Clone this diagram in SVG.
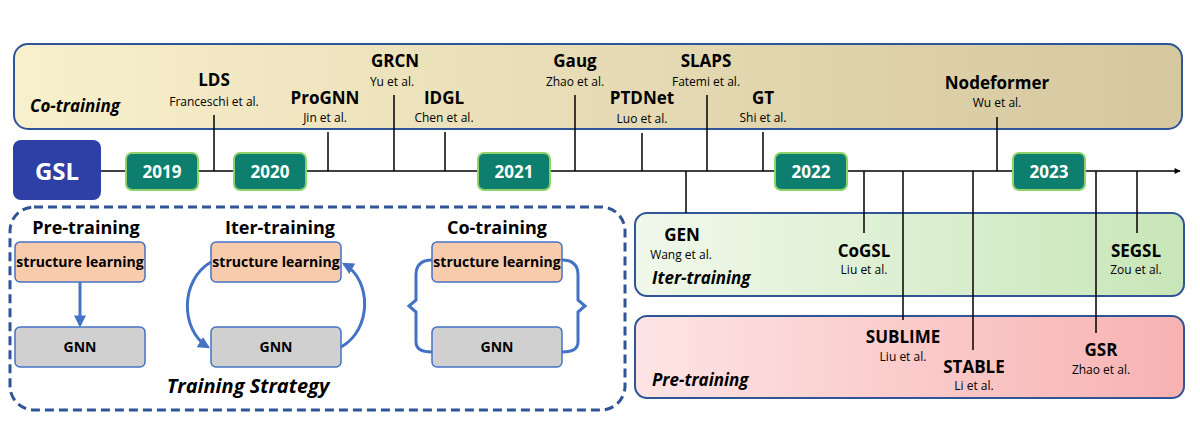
<svg xmlns="http://www.w3.org/2000/svg" width="1200" height="445" viewBox="0 0 1200 445">
<defs>
<linearGradient id="gTop" x1="0" x2="1" y1="0" y2="0"><stop offset="0" stop-color="#f8f0cc"/><stop offset="1" stop-color="#d5c79e"/></linearGradient>
<linearGradient id="gGreen" x1="0" x2="1"><stop offset="0" stop-color="#f0f8ea"/><stop offset="1" stop-color="#c8e6b8"/></linearGradient>
<linearGradient id="gRed" x1="0" x2="1"><stop offset="0" stop-color="#fde4e4"/><stop offset="1" stop-color="#f8b2b2"/></linearGradient>
<marker id="ah" viewBox="0 0 10 10" refX="9" refY="5" markerWidth="10" markerHeight="6" orient="auto-start-reverse" markerUnits="userSpaceOnUse"><path d="M0,0 L10,5 L0,10 z" fill="#000"/></marker>
<marker id="bh" viewBox="0 0 10 10" refX="8" refY="5" markerWidth="12" markerHeight="12" orient="auto" markerUnits="userSpaceOnUse"><path d="M0,0 L10,5 L0,10 z" fill="#4472c4"/></marker>
</defs>
<style>
text{font-family:"Open Sans","Noto Sans","Liberation Sans",sans-serif;fill:#000}
.n{font-size:17px;font-weight:bold;text-anchor:middle}
.a{font-size:12px;text-anchor:middle}
.cat{font-size:17px;font-weight:bold;font-style:italic}
.yr rect{fill:#0e7f6e;stroke:#8fd16a;stroke-width:2}
.yr text{fill:#fff;font-size:17px;font-weight:bold;text-anchor:middle}
.tk{stroke:#000;stroke-width:1.5}
.sl{fill:#f8cbad;stroke:#4472c4;stroke-width:1.5}
.gn{fill:#d0d0d0;stroke:#4472c4;stroke-width:1.5}
.bx{font-size:14px;font-weight:bold;text-anchor:middle}
.hd{font-size:18px;font-weight:bold;text-anchor:middle}
.fl{fill:none;stroke:#4472c4;stroke-width:3}
</style>
<g id="cotrain-band"><rect x="14" y="44" width="1168" height="85" rx="14" fill="url(#gTop)" stroke="#2f5597" stroke-width="2"/><text class="cat" x="30" y="112">Co-training</text></g>
<g id="iter-band"><rect x="635" y="213" width="549" height="83" rx="12" fill="url(#gGreen)" stroke="#2f5597" stroke-width="2"/><text class="cat" x="652" y="284">Iter-training</text></g>
<g id="pre-band"><rect x="635" y="316" width="549" height="82" rx="12" fill="url(#gRed)" stroke="#2f5597" stroke-width="2"/><text class="cat" x="652" y="386">Pre-training</text></g>
<g id="connectors">
<line class="tk" x1="101" y1="171" x2="1180" y2="171" stroke-width="3" marker-end="url(#ah)"/>
<line class="tk" x1="214" y1="115" x2="214" y2="171"/>
<line class="tk" x1="328" y1="132" x2="328" y2="171"/>
<line class="tk" x1="394" y1="95" x2="394" y2="171"/>
<line class="tk" x1="445" y1="132" x2="445" y2="171"/>
<line class="tk" x1="575" y1="95" x2="575" y2="171"/>
<line class="tk" x1="642" y1="133" x2="642" y2="171"/>
<line class="tk" x1="707" y1="95" x2="707" y2="171"/>
<line class="tk" x1="763" y1="132" x2="763" y2="171"/>
<line class="tk" x1="997" y1="117" x2="997" y2="171"/>
<line class="tk" x1="686" y1="171" x2="686" y2="213"/>
<line class="tk" x1="864" y1="171" x2="864" y2="233"/>
<line class="tk" x1="903" y1="171" x2="903" y2="320"/>
<line class="tk" x1="973" y1="171" x2="973" y2="350"/>
<line class="tk" x1="1096" y1="171" x2="1096" y2="333"/>
<line class="tk" x1="1137" y1="171" x2="1137" y2="233"/>
</g>
<g id="gsl"><rect x="13" y="140" width="88" height="60" rx="8" fill="#2e3fa6"/><text x="57" y="180" fill="#fff" style="fill:#fff;font-size:24px;font-weight:bold;text-anchor:middle">GSL</text></g>
<g id="y2019" class="yr"><rect x="126" y="153" width="72" height="37" rx="6"/><text x="162" y="178">2019</text></g>
<g id="y2020" class="yr"><rect x="234" y="153" width="72" height="37" rx="6"/><text x="270" y="178">2020</text></g>
<g id="y2021" class="yr"><rect x="478" y="153" width="72" height="37" rx="6"/><text x="514" y="178">2021</text></g>
<g id="y2022" class="yr"><rect x="775" y="153" width="72" height="37" rx="6"/><text x="811" y="178">2022</text></g>
<g id="y2023" class="yr"><rect x="1013" y="153" width="72" height="37" rx="6"/><text x="1049" y="178">2023</text></g>
<g id="lds"><text class="n" x="214" y="86">LDS</text><text class="a" x="214" y="106">Franceschi et al.</text></g>
<g id="prognn"><text class="n" x="325" y="104">ProGNN</text><text class="a" x="325" y="122">Jin et al.</text></g>
<g id="grcn"><text class="n" x="395" y="67">GRCN</text><text class="a" x="392" y="86">Yu et al.</text></g>
<g id="idgl"><text class="n" x="444" y="104">IDGL</text><text class="a" x="444" y="122">Chen et al.</text></g>
<g id="gaug"><text class="n" x="575" y="67">Gaug</text><text class="a" x="575" y="86">Zhao et al.</text></g>
<g id="ptdnet"><text class="n" x="642" y="104">PTDNet</text><text class="a" x="642" y="123">Luo et al.</text></g>
<g id="slaps"><text class="n" x="706" y="67">SLAPS</text><text class="a" x="706" y="86">Fatemi et al.</text></g>
<g id="gt"><text class="n" x="763" y="104">GT</text><text class="a" x="763" y="122">Shi et al.</text></g>
<g id="nodeformer"><text class="n" x="997" y="89">Nodeformer</text><text class="a" x="997" y="107">Wu et al.</text></g>
<g id="gen"><text class="n" x="682" y="241">GEN</text><text class="a" x="681" y="259">Wang et al.</text></g>
<g id="cogsl"><text class="n" x="864" y="257">CoGSL</text><text class="a" x="864" y="274">Liu et al.</text></g>
<g id="segsl"><text class="n" x="1136" y="257">SEGSL</text><text class="a" x="1136" y="274">Zou et al.</text></g>
<g id="sublime"><text class="n" x="903" y="343">SUBLIME</text><text class="a" x="903" y="361">Liu et al.</text></g>
<g id="stable"><text class="n" x="974" y="373">STABLE</text><text class="a" x="974" y="390">Li et al.</text></g>
<g id="gsr"><text class="n" x="1101" y="356">GSR</text><text class="a" x="1101" y="374">Zhao et al.</text></g>
<g id="training-strategy">
<rect x="10" y="207" width="615" height="203" rx="24" fill="none" stroke="#2f5597" stroke-width="3" stroke-dasharray="9 5"/>
<text x="248" y="393" style="font-size:20px;font-weight:bold;font-style:italic;text-anchor:middle">Training Strategy</text>
</g>
<g id="pre"><text class="hd" x="86" y="234">Pre-training</text>
<rect class="sl" x="15" y="242" width="130" height="40" rx="5"/><text class="bx" x="80" y="267">structure learning</text>
<rect class="gn" x="15" y="327" width="130" height="40" rx="5"/><text class="bx" x="80" y="352">GNN</text>
<line class="fl" x1="80" y1="282" x2="80" y2="325" marker-end="url(#bh)"/></g>
<g id="iter"><text class="hd" x="280" y="234">Iter-training</text>
<rect class="sl" x="211" y="242" width="130" height="40" rx="5"/><text class="bx" x="276" y="267">structure learning</text>
<rect class="gn" x="211" y="327" width="130" height="40" rx="5"/><text class="bx" x="276" y="352">GNN</text>
<path class="fl" d="M211,262 C180,280 180,330 208,347" marker-end="url(#bh)"/>
<path class="fl" d="M341,347 C372,330 372,280 344,264" marker-end="url(#bh)"/></g>
<g id="co"><text class="hd" x="497" y="234">Co-training</text>
<rect class="sl" x="432" y="242" width="130" height="40" rx="5"/><text class="bx" x="497" y="267">structure learning</text>
<rect class="gn" x="432" y="327" width="130" height="40" rx="5"/><text class="bx" x="497" y="352">GNN</text>
<path class="fl" d="M432,260 Q416,260 416,275 L416,300 L409,306 L416,312 L416,342 Q416,352 432,352"/>
<path class="fl" d="M562,260 Q578,260 578,275 L578,300 L585,306 L578,312 L578,342 Q578,352 562,352"/></g>
</svg>
